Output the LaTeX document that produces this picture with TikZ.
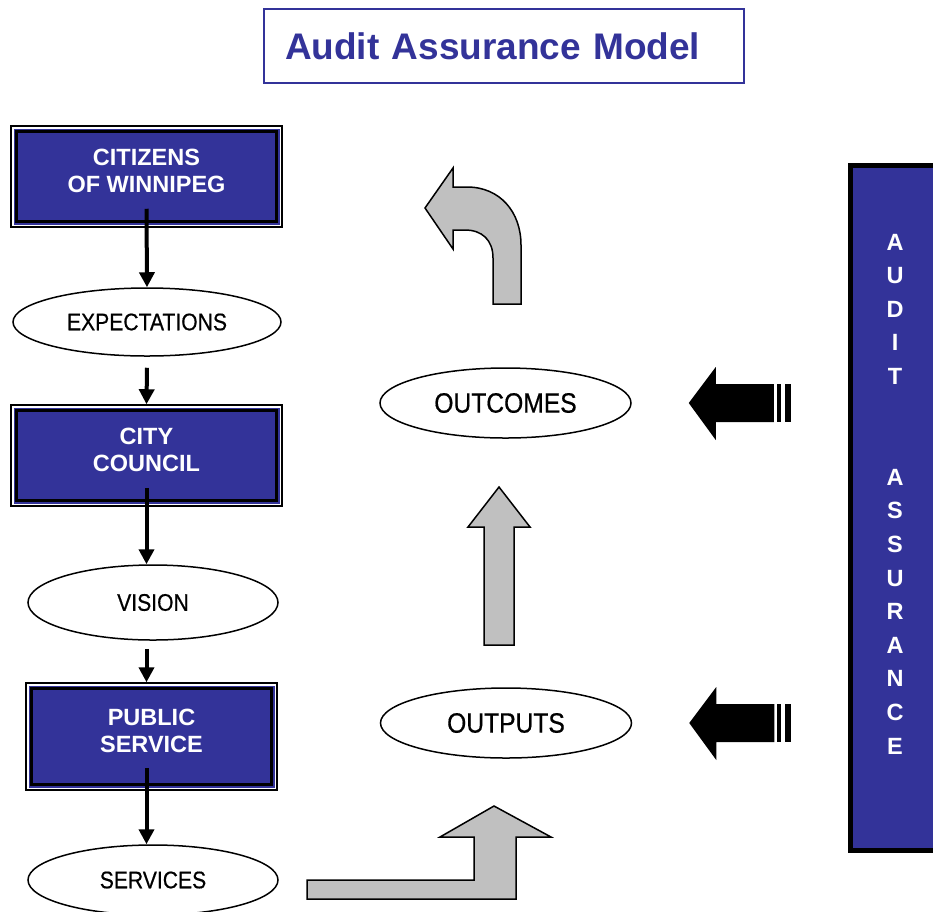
\documentclass[tikz,border=0pt]{standalone}
\usepackage{fontspec}
\setmainfont{Liberation Sans}
\newfontfamily\narrowfont[FakeStretch=0.88,FakeBold=0.5]{Liberation Sans}
\usetikzlibrary{positioning, arrows.meta, calc, shapes.geometric}
\definecolor{navy}{RGB}{51,51,153}
\definecolor{steel}{RGB}{192,192,192}

\begin{document}
\begin{tikzpicture}[x=1pt,y=-1pt,
  org/.style={draw,line width=1.5pt,fill=white,minimum width=271,minimum height=101,align=center,
    text=white,text depth=12pt,font=\fontsize{23.5}{27}\selectfont\bfseries,
    path picture={
      \fill[navy] ([shift={(2.5pt,2.5pt)}]path picture bounding box.south west) rectangle ([shift={(-2.5pt,-2.5pt)}]path picture bounding box.north east);
      \draw[line width=3.5pt] ([shift={(5.5pt,5.5pt)}]path picture bounding box.south west) rectangle ([shift={(-5.5pt,-5.5pt)}]path picture bounding box.north east);}},
  oval/.style={draw,ellipse,line width=1.5pt,inner sep=0pt,font=\narrowfont\fontsize{24}{28}\selectfont},
  bigoval/.style={oval,minimum width=251,minimum height=70,font=\narrowfont\fontsize{28}{32}\selectfont},
  flow/.style={line width=4pt,-{Triangle[length=15pt,width=15pt]}},
  fat/.style={draw,line width=1.5pt,fill=steel},
  band/.style={draw,line width=5pt,fill=navy,minimum width=90,minimum height=685}]
  \useasboundingbox (0,0) rectangle (933,911);

  \node[draw=navy,line width=1.5pt,minimum width=480,minimum height=74,text width=438,inner xsep=21,
    align=left,text=navy,font=\fontsize{37}{44}\selectfont\bfseries] (title) at (504,46) {Audit Assurance Model};

  % left column
  \node[org] (citizens) at (146.5,176.5) {CITIZENS\\OF WINNIPEG};
  \node[oval,minimum width=268,minimum height=68] (expect) at (147,322) {EXPECTATIONS};
  \node[org] (council) at (146.5,455.5) {CITY\\COUNCIL};
  \node[oval,minimum width=250,minimum height=75] (vision) at (153,602.5) {VISION};
  \node[org,minimum width=251,minimum height=107] (public) at (151.5,736.5) {PUBLIC\\SERVICE};
  \node[oval,minimum width=250,minimum height=70] (services) at (153,880) {SERVICES};

  \draw[flow] ($(citizens.south)+(0,-19)$) -- (expect.north);
  \draw[flow] ($(expect.south)+(0,11)$) -- (council.north);
  \draw[flow] ($(council.south)+(0,-19)$) -- (council.south |- vision.north);
  \draw[flow] ($(council.south |- vision.south)+(0,8)$) -- (council.south |- public.north);
  \draw[flow] ($(council.south |- public.south)+(0,-23)$) -- (council.south |- services.north);

  % middle column
  \node[bigoval] (outcomes) at (505.5,403) {OUTCOMES};
  \node[bigoval] (outputs) at (506,723) {OUTPUTS};

  \draw[fat] (307,880) -- (474,880) -- (474,837) -- (440,837) -- (494,806) -- (551,837)
    -- (516,837) -- (516,899) -- (307,899) -- cycle;
  \draw[fat] (484,645) -- (484,527) -- (468,527) -- (499,487) -- (530,527) -- (514,527)
    -- (514,645) -- cycle;
  \draw[fat] (521,304) -- (521,245) .. controls (521,212) and (500,187) .. (467,187) -- (453,187)
    -- (453,168) -- (425,208) -- (453,249) -- (453,230) -- (465,230)
    .. controls (482,230) and (493,240) .. (493,258) -- (493,304) -- cycle;

  % audit side
  \node[band] (band) at (895,507.5) {};
  \node[text=white,align=center,font=\fontsize{23.5}{33.6}\selectfont\bfseries] (audit) at (895,494)
    {A\\U\\D\\I\\T\\[67.2pt]A\\S\\S\\U\\R\\A\\N\\C\\E};

  \foreach \n in {outcomes,outputs}{
    \begin{scope}[shift={($(\n.east)+(57,0)$)}]
      \fill (0,0) -- (27,-36) -- (27,-19) -- (85,-19) -- (85,19) -- (27,19) -- (27,37) -- cycle;
      \fill (88,-19) rectangle (92,19);
      \fill (96,-19) rectangle (102,19);
    \end{scope}
  }
\end{tikzpicture}
\end{document}
